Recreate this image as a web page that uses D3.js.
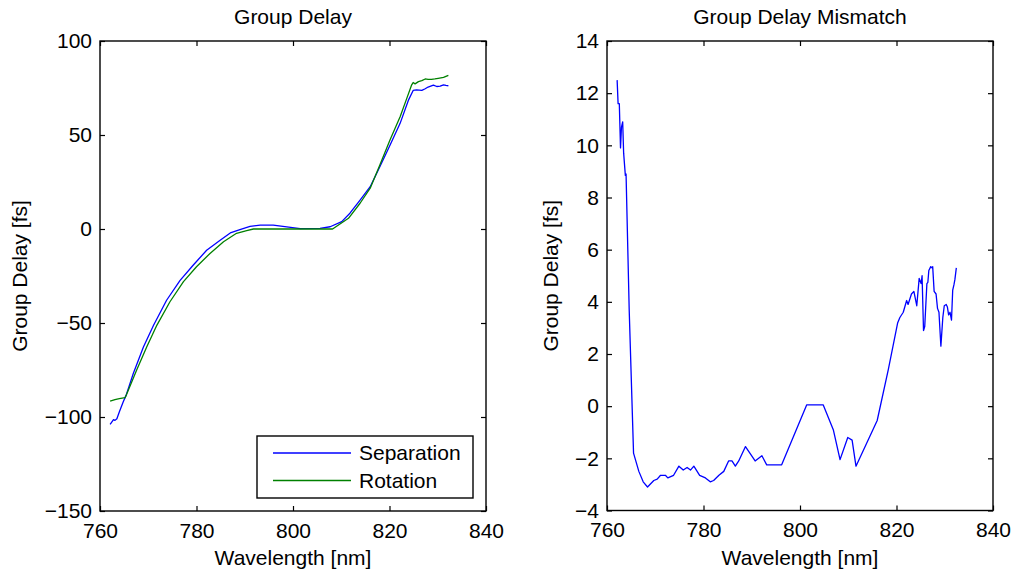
<!DOCTYPE html>
<html>
<head>
<meta charset="utf-8">
<script src="https://cdn.jsdelivr.net/npm/d3@7"></script>
<style>
  body { margin: 0; background: #fff; }
  svg { font-family: "Liberation Sans", Arial, Helvetica, sans-serif; }
</style>
</head>
<body>
<svg id="svg1" width="1016" height="578"></svg>
<script>
// wavelength [nm] / group delay [fs] for the separation measurement
sepWl = [762.1, 762.8, 763.1, 763.5, 764.0, 764.8, 765.4, 766.9, 769.0, 771.1, 773.8, 776.6,
         779.3, 782.1, 784.9, 787.0, 789.0, 791.1, 793.2, 795.9, 798.7, 801.5, 805.6, 807.7,
         810.1, 811.8, 813.9, 816.0, 818.0, 820.1, 822.2, 823.9, 824.9, 825.6, 826.7, 827.4,
         828.0, 829.1, 829.8, 830.5, 831.2, 831.7, 832.2];
sepGd = [-103.9, -101.4, -101.8, -100.9, -97.3, -92.0, -88.5, -76.9, -62.8, -51.2, -37.9, -27.3,
         -19.3, -11.3, -6.0, -2.1, -0.3, 1.4, 2.1, 2.1, 1.1, 0.2, 0.3, 1.2,
         3.9, 8.4, 15.4, 22.5, 33.1, 44.6, 56.2, 68.4, 73.7, 74.0, 73.7, 74.6,
         75.5, 76.5, 75.8, 76.0, 76.7, 76.4, 76.2];

// same thing for the rotation measurement
rotWl = [762.1, 763.1, 764.0, 765.2, 765.5, 767.6, 769.7, 771.8, 774.5, 777.3, 780.0, 782.8,
         785.6, 788.3, 790.4, 791.8, 808.2, 811.5, 813.9, 816.0, 818.0, 820.1, 822.2, 823.6,
         824.6, 824.9, 825.3, 826.0, 826.7, 827.4, 828.0, 828.7, 829.4, 830.1, 831.2, 832.2];
rotGd = [-91.6, -90.7, -90.2, -89.7, -88.0, -75.0, -62.6, -51.1, -38.7, -28.0, -20.1, -13.0,
         -6.8, -2.3, -0.9, 0, 0, 5.7, 13.7, 21.7, 34.1, 47.4, 59.7, 69.6,
         76.7, 77.9, 77.2, 78.4, 78.9, 79.8, 79.6, 79.6, 79.8, 80.1, 80.6, 81.7];

// mismatch between the two
misWl = [762.1, 762.3, 762.55, 762.8, 763.0, 763.25, 763.45, 763.8, 763.95, 764.6, 765.5, 766.6,
         767.5, 768.4, 769.7, 770.4, 771.1, 772.1, 772.6, 773.8, 774.9, 775.8, 776.6, 777.3,
         778.0, 779.2, 780.4, 781.4, 782.1, 783.2, 784.2, 785.2, 785.9, 786.6, 787.3, 788.7,
         790.7, 792.1, 793.1, 796.2, 801.4, 804.8, 806.9, 808.3, 809.9, 810.8, 811.6, 816.0,
         818.3, 820.25, 820.7, 821.4, 822.1, 822.4, 823.1, 823.6, 824.2, 824.7, 825.1, 825.3,
         825.6, 825.85, 826.3, 826.5, 826.7, 827.1, 827.4, 827.5, 827.8, 828.2, 828.5, 828.8,
         829.2, 829.6, 829.9, 830.3, 830.55, 830.8, 831.1, 831.4, 831.65, 831.9, 832.1, 832.4];
misGd = [12.5, 11.6, 11.6, 9.9, 10.7, 10.9, 9.7, 8.85, 8.9, 3.7, -1.8, -2.5,
         -2.9, -3.1, -2.85, -2.8, -2.65, -2.65, -2.75, -2.65, -2.3, -2.45, -2.35, -2.45,
         -2.3, -2.65, -2.75, -2.9, -2.85, -2.65, -2.5, -2.1, -2.1, -2.3, -2.1, -1.55,
         -2.1, -1.9, -2.25, -2.25, 0.05, 0.05, -0.9, -2.05, -1.2, -1.3, -2.3, -0.55,
         1.4, 3.2, 3.4, 3.6, 4.05, 3.9, 4.3, 4.4, 3.85, 4.9, 4.7, 5.0,
         2.9, 3.05, 4.7, 4.75, 5.2, 5.35, 5.3, 5.35, 4.4, 4.3, 3.75, 3.6,
         2.3, 3.4, 3.85, 3.9, 3.8, 3.5, 3.6, 3.3, 4.45, 4.65, 4.85, 5.3];

xTicks = [760, 780, 800, 820, 840];
leftYTicks = [-150, -100, -50, 0, 50, 100];
rightYTicks = [-4, -2, 0, 2, 4, 6, 8, 10, 12, 14];
legendNames = ['Separation', 'Rotation'];
lineColors = ['#0000ff', '#008000'];

fontSize = 21;
tickLen = 5;

document.addEventListener('DOMContentLoaded', function() {
  svg = d3.select('#svg1');

  var leftX = d3.scaleLinear().domain([760, 840]).range([100, 486]);
  var leftY = d3.scaleLinear().domain([-150, 100]).range([511, 41]);
  var rightX = d3.scaleLinear().domain([760, 840]).range([607, 993]);
  var rightY = d3.scaleLinear().domain([-4, 14]).range([510.5, 41]);

  drawAxes(leftX, leftY, leftYTicks, 'Group Delay', 27);
  drawAxes(rightX, rightY, rightYTicks, 'Group Delay Mismatch', 558);

  drawSeries(leftX, leftY, sepWl, sepGd, lineColors[0]);
  drawSeries(leftX, leftY, rotWl, rotGd, lineColors[1]);
  drawSeries(rightX, rightY, misWl, misGd, lineColors[0]);

  drawLegend();
});

function fmt(d) {
  return d < 0 ? '\u2212' + Math.abs(d) : '' + d;
}

// one MATLAB style box: ticks inside on all four sides, labels bottom/left
function drawAxes(xScale, yScale, yTicks, title, yLabelX) {
  var x0 = xScale.range()[0], x1 = xScale.range()[1];
  var y0 = yScale.range()[0], y1 = yScale.range()[1];
  var g = svg.append('g');

  var bottom = g.append('g')
    .attr('transform', `translate(0,${y0})`)
    .call(d3.axisBottom(xScale).tickValues(xTicks).tickSizeInner(-tickLen).tickSizeOuter(0)
      .tickPadding(12).tickFormat(fmt));
  var top = g.append('g')
    .attr('transform', `translate(0,${y1})`)
    .call(d3.axisTop(xScale).tickValues(xTicks).tickSizeInner(-tickLen).tickSizeOuter(0)
      .tickFormat(''));
  var left = g.append('g')
    .attr('transform', `translate(${x0},0)`)
    .call(d3.axisLeft(yScale).tickValues(yTicks).tickSizeInner(-tickLen).tickSizeOuter(0)
      .tickPadding(8).tickFormat(fmt));
  var right = g.append('g')
    .attr('transform', `translate(${x1},0)`)
    .call(d3.axisRight(yScale).tickValues(yTicks).tickSizeInner(-tickLen).tickSizeOuter(0)
      .tickFormat(''));

  g.selectAll('.domain').remove();
  g.selectAll('.tick line').style('stroke', '#000').style('stroke-width', '1.2');
  g.selectAll('.tick text')
    .style('font-size', fontSize + 'px')
    .style('font-family', '"Liberation Sans", Arial, sans-serif')
    .style('fill', '#000');

  g.append('rect')
    .attr('x', x0).attr('y', y1)
    .attr('width', x1 - x0).attr('height', y0 - y1)
    .style('fill', 'none')
    .style('stroke', '#000')
    .style('stroke-width', '1.4');

  g.append('text')
    .attr('x', (x0 + x1) / 2)
    .attr('y', 24)
    .attr('text-anchor', 'middle')
    .style('font-size', fontSize + 'px')
    .style('fill', '#000')
    .text(title);
  g.append('text')
    .attr('x', (x0 + x1) / 2)
    .attr('y', 565)
    .attr('text-anchor', 'middle')
    .style('font-size', fontSize + 'px')
    .style('fill', '#000')
    .text('Wavelength [nm]');
  g.append('text')
    .attr('transform', `translate(${yLabelX},${(y0 + y1) / 2}) rotate(-90)`)
    .attr('text-anchor', 'middle')
    .style('font-size', fontSize + 'px')
    .style('fill', '#000')
    .text('Group Delay [fs]');
}

function drawSeries(xScale, yScale, xs, ys, color) {
  var pts = xs.map((d, i) => [d, ys[i]]);
  var line = d3.line()
    .x(d => xScale(d[0]))
    .y(d => yScale(d[1]));
  svg.append('path')
    .datum(pts)
    .style('fill', 'none')
    .style('stroke', color)
    .style('stroke-width', '1.3')
    .style('stroke-linejoin', 'round')
    .attr('d', line);
}

function drawLegend() {
  var lg = svg.append('g').attr('transform', 'translate(257,436)');
  lg.append('rect')
    .attr('width', 216).attr('height', 62)
    .style('fill', '#fff')
    .style('stroke', '#000')
    .style('stroke-width', '1.4');
  legendNames.forEach(function(name, i) {
    var y = 17 + i * 27.5;
    lg.append('line')
      .attr('x1', 16).attr('x2', 94)
      .attr('y1', y).attr('y2', y)
      .style('stroke', lineColors[i])
      .style('stroke-width', '1.3');
    lg.append('text')
      .attr('x', 102).attr('y', y)
      .attr('dy', '0.35em')
      .style('font-size', fontSize + 'px')
      .style('fill', '#000')
      .text(name);
  });
}
</script>
</body>
</html>
